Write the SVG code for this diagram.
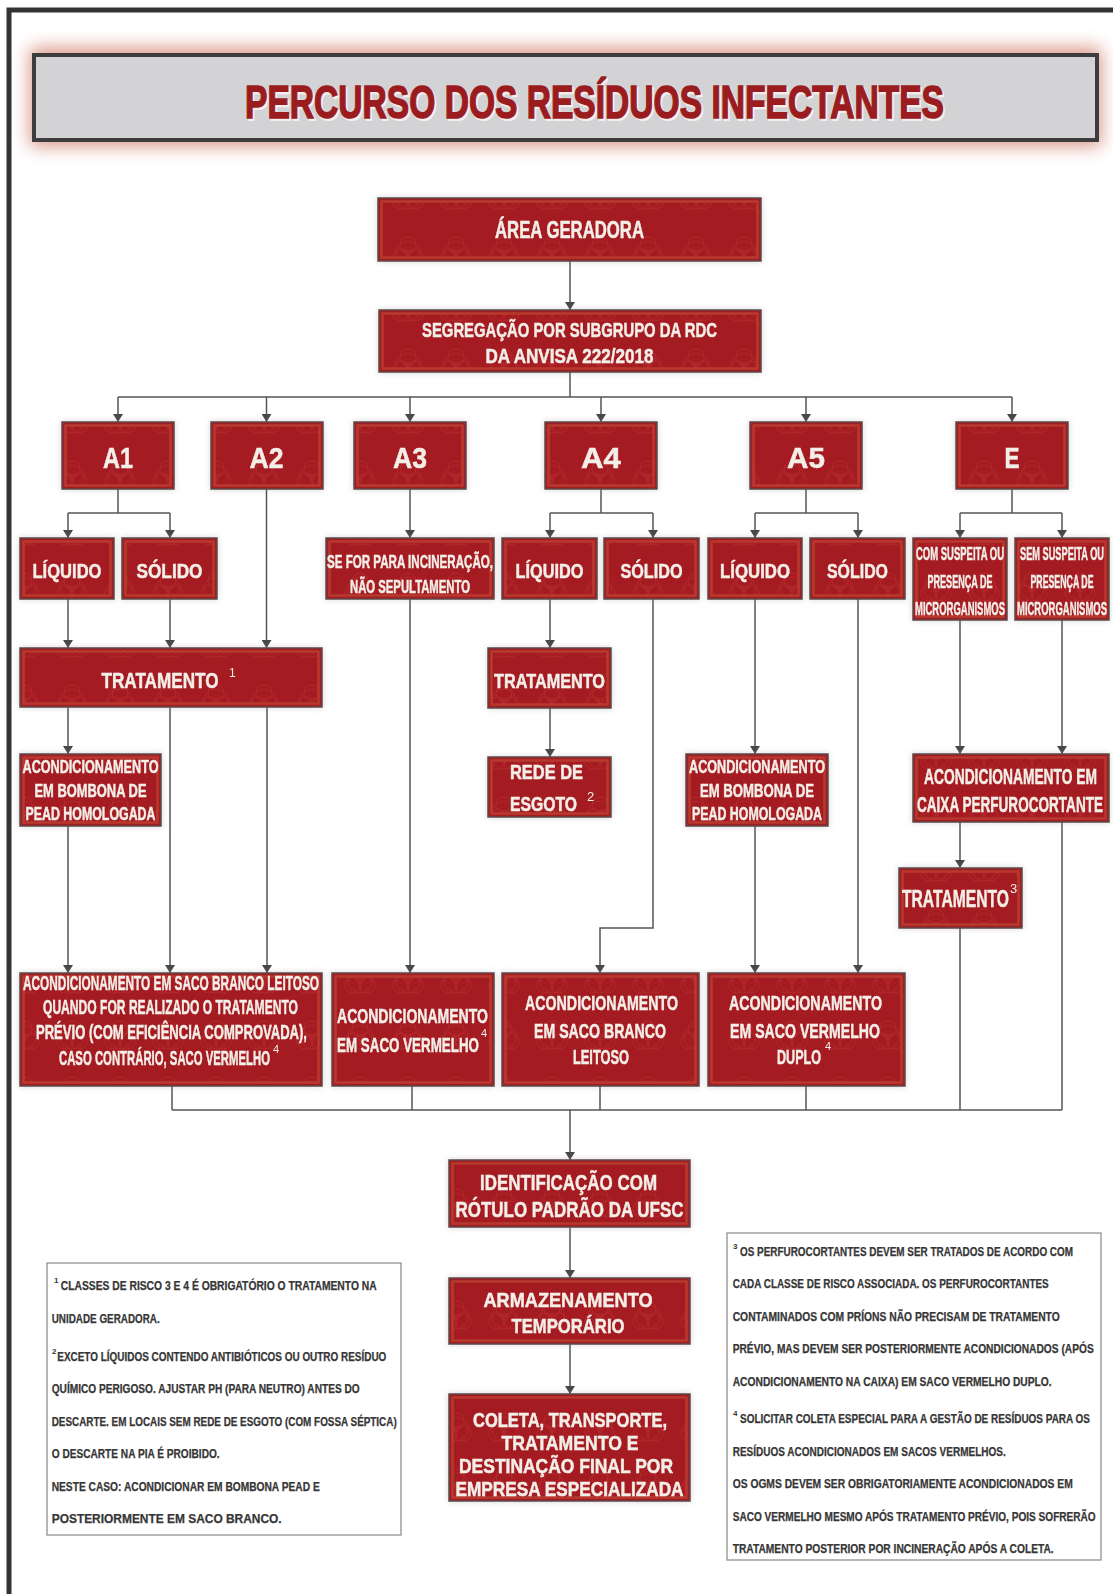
<svg xmlns="http://www.w3.org/2000/svg" width="1113" height="1594" viewBox="0 0 1113 1594">
<style>
.bx{fill:#a41a20;stroke:#5d4b4a;stroke-width:1.5}
.wm{fill:url(#bio)}
.bd{fill:none;stroke:#bd4434;stroke-width:2.5;opacity:.75}
.t{fill:#f4eee8;stroke:#f4eee8;stroke-width:.5;font-family:"Liberation Sans",Arial,sans-serif;font-weight:bold;text-anchor:middle}
.sup{fill:#f4eee8;font-family:"Liberation Sans",Arial,sans-serif;font-weight:normal}
.fn{fill:#363636;stroke:#363636;stroke-width:.25;font-family:"Liberation Sans",Arial,sans-serif;font-weight:bold;font-size:12px}
.fs{fill:#363636;font-family:"Liberation Sans",Arial,sans-serif;font-weight:bold;font-size:8px}
.c{fill:none;stroke:#555;stroke-width:1.5}
.ca{fill:none;stroke:#555;stroke-width:1.5;marker-end:url(#ah)}
.note{fill:#fff;stroke:#888;stroke-width:1.2}
.tt{font-family:"Liberation Sans",Arial,sans-serif;font-weight:bold;font-size:46px;text-anchor:middle}
</style>
<defs>
<marker id="ah" markerWidth="8" markerHeight="10" refX="8" refY="5" orient="auto" markerUnits="userSpaceOnUse"><path d="M0,0 L8,5 L0,10 Z" fill="#474747"/></marker>
<pattern id="bio" width="48" height="56" patternUnits="userSpaceOnUse">
<g fill="none" stroke="#c43a3a" stroke-width="1" opacity=".45">
<circle cx="24" cy="21" r="8"/><circle cx="17" cy="33" r="8"/><circle cx="31" cy="33" r="8"/><circle cx="24" cy="29" r="3"/><circle cx="24" cy="29" r="12"/>
</g>
</pattern>
<filter id="sh" x="-10%" y="-20%" width="120%" height="140%"><feDropShadow dx="0" dy="0" stdDeviation="3" flood-color="#8a8a8a" flood-opacity=".35"/></filter>
<filter id="glow" x="-10%" y="-60%" width="120%" height="220%"><feGaussianBlur stdDeviation="9"/></filter>
</defs>
<rect x="0" y="0" width="1113" height="1594" fill="#fff"/>
<path d="M9,1594 V10 H1113" fill="none" stroke="#333" stroke-width="5"/>

<g id="title">
<rect x="30" y="48" width="1071" height="98" fill="#cf7a66" opacity=".8" filter="url(#glow)"/>
<rect x="34" y="55" width="1063" height="85" fill="#d3d3d5" stroke="#3d3d3d" stroke-width="4"/>
<text class="tt" x="596" y="119.5" fill="#f6eeee" stroke="#f6eeee" stroke-width="2" textLength="699" lengthAdjust="spacingAndGlyphs">PERCURSO DOS RESÍDUOS INFECTANTES</text>
<text class="tt" x="594.5" y="118" fill="#9b1c1f" stroke="#9b1c1f" stroke-width="1.5" textLength="699" lengthAdjust="spacingAndGlyphs">PERCURSO DOS RESÍDUOS INFECTANTES</text>
</g>

<g id="connectors">
<path class="ca" d="M570,261 V310"/>
<path class="c" d="M570,372 V397 M118,397 H1012"/>
<path class="ca" d="M118,397 V422"/><path class="ca" d="M266.5,397 V422"/><path class="ca" d="M410,397 V422"/>
<path class="ca" d="M601,397 V422"/><path class="ca" d="M806,397 V422"/><path class="ca" d="M1012,397 V422"/>
<path class="c" d="M118,489 V513 M68,513 H170 M601,489 V513 M550,513 H653 M806,489 V513 M755,513 H858 M1012,489 V513 M960,513 H1062"/>
<path class="ca" d="M68,513 V538"/><path class="ca" d="M170,513 V538"/>
<path class="ca" d="M550,513 V538"/><path class="ca" d="M653,513 V538"/>
<path class="ca" d="M755,513 V538"/><path class="ca" d="M858,513 V538"/>
<path class="ca" d="M960,513 V538"/><path class="ca" d="M1062,513 V538"/>
<path class="ca" d="M266.5,489 V648"/>
<path class="ca" d="M410,489 V538"/>
<path class="ca" d="M68,599 V648"/><path class="ca" d="M170,599 V648"/>
<path class="ca" d="M68,707 V754"/>
<path class="ca" d="M170,707 V973"/><path class="ca" d="M267,707 V973"/>
<path class="ca" d="M68,826 V973"/>
<path class="ca" d="M410,599 V973"/>
<path class="ca" d="M550,599 V648"/><path class="ca" d="M550,708 V757"/>
<path class="ca" d="M653,599 V928 H600 V973"/>
<path class="ca" d="M755,599 V754"/><path class="ca" d="M755,826 V973"/>
<path class="ca" d="M858,599 V973"/>
<path class="ca" d="M960,620 V754"/><path class="ca" d="M1062,620 V754"/>
<path class="ca" d="M960,822 V868"/>
<path class="c" d="M1062,822 V1110 M960,928 V1110"/>
<path class="c" d="M172,1086 V1110 M412,1086 V1110 M600,1086 V1110 M806,1086 V1110 M172,1110 H1062"/>
<path class="ca" d="M570,1110 V1160"/>
<path class="ca" d="M570,1227 V1278"/>
<path class="ca" d="M570,1344 V1394"/>
</g>

<g id="n-area" filter="url(#sh)"><rect class="bx" x="378" y="198" width="383" height="63"/><rect class="wm" x="382" y="202" width="375" height="55"/><rect class="bd" x="381.5" y="201.5" width="376" height="56"/>
<text class="t" x="569.5" y="238" font-size="23" textLength="149" lengthAdjust="spacingAndGlyphs">ÁREA GERADORA</text></g>

<g id="n-segreg" filter="url(#sh)"><rect class="bx" x="379" y="310" width="382" height="62"/><rect class="wm" x="383" y="314" width="374" height="54"/><rect class="bd" x="382.5" y="313.5" width="375" height="55"/>
<text class="t" x="569.5" y="337" font-size="21" textLength="295" lengthAdjust="spacingAndGlyphs">SEGREGAÇÃO POR SUBGRUPO DA RDC</text>
<text class="t" x="569.5" y="363" font-size="21" textLength="168" lengthAdjust="spacingAndGlyphs">DA ANVISA 222/2018</text></g>

<g id="n-a1" filter="url(#sh)"><rect class="bx" x="62" y="422" width="112" height="67"/><rect class="wm" x="66" y="426" width="104" height="59"/><rect class="bd" x="65.5" y="425.5" width="105" height="60"/>
<text class="t" x="118" y="468" font-size="30" textLength="30" lengthAdjust="spacingAndGlyphs">A1</text></g>
<g id="n-a2" filter="url(#sh)"><rect class="bx" x="211" y="422" width="112" height="67"/><rect class="wm" x="215" y="426" width="104" height="59"/><rect class="bd" x="214.5" y="425.5" width="105" height="60"/>
<text class="t" x="266.5" y="468" font-size="30" textLength="34" lengthAdjust="spacingAndGlyphs">A2</text></g>
<g id="n-a3" filter="url(#sh)"><rect class="bx" x="354" y="422" width="112" height="67"/><rect class="wm" x="358" y="426" width="104" height="59"/><rect class="bd" x="357.5" y="425.5" width="105" height="60"/>
<text class="t" x="410" y="468" font-size="30" textLength="34" lengthAdjust="spacingAndGlyphs">A3</text></g>
<g id="n-a4" filter="url(#sh)"><rect class="bx" x="545" y="422" width="112" height="67"/><rect class="wm" x="549" y="426" width="104" height="59"/><rect class="bd" x="548.5" y="425.5" width="105" height="60"/>
<text class="t" x="601" y="468" font-size="30" textLength="40" lengthAdjust="spacingAndGlyphs">A4</text></g>
<g id="n-a5" filter="url(#sh)"><rect class="bx" x="750" y="422" width="112" height="67"/><rect class="wm" x="754" y="426" width="104" height="59"/><rect class="bd" x="753.5" y="425.5" width="105" height="60"/>
<text class="t" x="806" y="468" font-size="30" textLength="38" lengthAdjust="spacingAndGlyphs">A5</text></g>
<g id="n-e" filter="url(#sh)"><rect class="bx" x="956" y="422" width="112" height="67"/><rect class="wm" x="960" y="426" width="104" height="59"/><rect class="bd" x="959.5" y="425.5" width="105" height="60"/>
<text class="t" x="1012" y="468" font-size="30" textLength="15" lengthAdjust="spacingAndGlyphs">E</text></g>

<g id="n-a1-liq" filter="url(#sh)"><rect class="bx" x="20" y="538" width="94" height="61"/><rect class="wm" x="24" y="542" width="86" height="53"/><rect class="bd" x="23.5" y="541.5" width="87" height="54"/>
<text class="t" x="67" y="578" font-size="21" textLength="69" lengthAdjust="spacingAndGlyphs">LÍQUIDO</text></g>
<g id="n-a1-sol" filter="url(#sh)"><rect class="bx" x="122" y="538" width="95" height="61"/><rect class="wm" x="126" y="542" width="87" height="53"/><rect class="bd" x="125.5" y="541.5" width="88" height="54"/>
<text class="t" x="169.5" y="578" font-size="21" textLength="66" lengthAdjust="spacingAndGlyphs">SÓLIDO</text></g>
<g id="n-a3-inc" filter="url(#sh)"><rect class="bx" x="326" y="538" width="168" height="61"/><rect class="wm" x="330" y="542" width="160" height="53"/><rect class="bd" x="329.5" y="541.5" width="161" height="54"/>
<text class="t" x="410" y="568" font-size="18" textLength="166" lengthAdjust="spacingAndGlyphs">SE FOR PARA INCINERAÇÃO,</text>
<text class="t" x="410" y="593" font-size="18" textLength="120" lengthAdjust="spacingAndGlyphs">NÃO SEPULTAMENTO</text></g>
<g id="n-a4-liq" filter="url(#sh)"><rect class="bx" x="502" y="538" width="95" height="61"/><rect class="wm" x="506" y="542" width="87" height="53"/><rect class="bd" x="505.5" y="541.5" width="88" height="54"/>
<text class="t" x="549.5" y="578" font-size="21" textLength="68" lengthAdjust="spacingAndGlyphs">LÍQUIDO</text></g>
<g id="n-a4-sol" filter="url(#sh)"><rect class="bx" x="604" y="538" width="95" height="61"/><rect class="wm" x="608" y="542" width="87" height="53"/><rect class="bd" x="607.5" y="541.5" width="88" height="54"/>
<text class="t" x="651.5" y="578" font-size="21" textLength="62" lengthAdjust="spacingAndGlyphs">SÓLIDO</text></g>
<g id="n-a5-liq" filter="url(#sh)"><rect class="bx" x="708" y="538" width="94" height="61"/><rect class="wm" x="712" y="542" width="86" height="53"/><rect class="bd" x="711.5" y="541.5" width="87" height="54"/>
<text class="t" x="755" y="578" font-size="21" textLength="70" lengthAdjust="spacingAndGlyphs">LÍQUIDO</text></g>
<g id="n-a5-sol" filter="url(#sh)"><rect class="bx" x="810" y="538" width="95" height="61"/><rect class="wm" x="814" y="542" width="87" height="53"/><rect class="bd" x="813.5" y="541.5" width="88" height="54"/>
<text class="t" x="857.5" y="578" font-size="21" textLength="61" lengthAdjust="spacingAndGlyphs">SÓLIDO</text></g>
<g id="n-e-com" filter="url(#sh)"><rect class="bx" x="913" y="538" width="94" height="82"/><rect class="wm" x="917" y="542" width="86" height="74"/><rect class="bd" x="916.5" y="541.5" width="87" height="75"/>
<text class="t" x="960" y="560" font-size="18" textLength="88" lengthAdjust="spacingAndGlyphs">COM SUSPEITA OU</text>
<text class="t" x="960" y="588" font-size="18" textLength="65" lengthAdjust="spacingAndGlyphs">PRESENÇA DE</text>
<text class="t" x="960" y="615" font-size="18" textLength="90" lengthAdjust="spacingAndGlyphs">MICRORGANISMOS</text></g>
<g id="n-e-sem" filter="url(#sh)"><rect class="bx" x="1015" y="538" width="94" height="82"/><rect class="wm" x="1019" y="542" width="86" height="74"/><rect class="bd" x="1018.5" y="541.5" width="87" height="75"/>
<text class="t" x="1062" y="560" font-size="18" textLength="84" lengthAdjust="spacingAndGlyphs">SEM SUSPEITA OU</text>
<text class="t" x="1062" y="588" font-size="18" textLength="63" lengthAdjust="spacingAndGlyphs">PRESENÇA DE</text>
<text class="t" x="1062" y="615" font-size="18" textLength="90" lengthAdjust="spacingAndGlyphs">MICRORGANISMOS</text></g>

<g id="n-trat1" filter="url(#sh)"><rect class="bx" x="20" y="648" width="302" height="59"/><rect class="wm" x="24" y="652" width="294" height="51"/><rect class="bd" x="23.5" y="651.5" width="295" height="52"/>
<text class="t" x="160" y="688" font-size="22" textLength="117" lengthAdjust="spacingAndGlyphs">TRATAMENTO</text>
<text class="sup" x="229" y="677" font-size="12">1</text></g>
<g id="n-a1-bomb" filter="url(#sh)"><rect class="bx" x="20" y="754" width="141" height="72"/><rect class="wm" x="24" y="758" width="133" height="64"/><rect class="bd" x="23.5" y="757.5" width="134" height="65"/>
<text class="t" x="90.5" y="773" font-size="18" textLength="136" lengthAdjust="spacingAndGlyphs">ACONDICIONAMENTO</text>
<text class="t" x="90.5" y="797" font-size="18" textLength="112" lengthAdjust="spacingAndGlyphs">EM BOMBONA DE</text>
<text class="t" x="90.5" y="820" font-size="18" textLength="130" lengthAdjust="spacingAndGlyphs">PEAD HOMOLOGADA</text></g>
<g id="n-a4-trat" filter="url(#sh)"><rect class="bx" x="488" y="648" width="123" height="60"/><rect class="wm" x="492" y="652" width="115" height="52"/><rect class="bd" x="491.5" y="651.5" width="116" height="53"/>
<text class="t" x="549.5" y="688" font-size="21" textLength="111" lengthAdjust="spacingAndGlyphs">TRATAMENTO</text></g>
<g id="n-a4-rede" filter="url(#sh)"><rect class="bx" x="488" y="757" width="123" height="60"/><rect class="wm" x="492" y="761" width="115" height="52"/><rect class="bd" x="491.5" y="760.5" width="116" height="53"/>
<text class="t" x="546.5" y="779" font-size="21" textLength="73" lengthAdjust="spacingAndGlyphs">REDE DE</text>
<text class="t" x="543.5" y="811" font-size="21" textLength="67" lengthAdjust="spacingAndGlyphs">ESGOTO</text>
<text class="sup" x="587" y="801" font-size="13">2</text></g>
<g id="n-a5-bomb" filter="url(#sh)"><rect class="bx" x="686" y="754" width="142" height="72"/><rect class="wm" x="690" y="758" width="134" height="64"/><rect class="bd" x="689.5" y="757.5" width="135" height="65"/>
<text class="t" x="757" y="773" font-size="18" textLength="136" lengthAdjust="spacingAndGlyphs">ACONDICIONAMENTO</text>
<text class="t" x="757" y="797" font-size="18" textLength="114" lengthAdjust="spacingAndGlyphs">EM BOMBONA DE</text>
<text class="t" x="757" y="820" font-size="18" textLength="130" lengthAdjust="spacingAndGlyphs">PEAD HOMOLOGADA</text></g>
<g id="n-e-caixa" filter="url(#sh)"><rect class="bx" x="913" y="754" width="196" height="68"/><rect class="wm" x="917" y="758" width="188" height="60"/><rect class="bd" x="916.5" y="757.5" width="189" height="61"/>
<text class="t" x="1010.5" y="784" font-size="22" textLength="173" lengthAdjust="spacingAndGlyphs">ACONDICIONAMENTO EM</text>
<text class="t" x="1010" y="812" font-size="22" textLength="186" lengthAdjust="spacingAndGlyphs">CAIXA PERFUROCORTANTE</text></g>
<g id="n-e-trat" filter="url(#sh)"><rect class="bx" x="899" y="868" width="123" height="60"/><rect class="wm" x="903" y="872" width="115" height="52"/><rect class="bd" x="902.5" y="871.5" width="116" height="53"/>
<text class="t" x="955.5" y="907" font-size="24" textLength="107" lengthAdjust="spacingAndGlyphs">TRATAMENTO</text>
<text class="sup" x="1010" y="893" font-size="13">3</text></g>

<g id="n-b1" filter="url(#sh)"><rect class="bx" x="20" y="973" width="302" height="113"/><rect class="wm" x="24" y="977" width="294" height="105"/><rect class="bd" x="23.5" y="976.5" width="295" height="106"/>
<text class="t" x="171" y="990" font-size="20" textLength="296" lengthAdjust="spacingAndGlyphs">ACONDICIONAMENTO EM SACO BRANCO LEITOSO</text>
<text class="t" x="170.5" y="1014" font-size="20" textLength="255" lengthAdjust="spacingAndGlyphs">QUANDO FOR REALIZADO O TRATAMENTO</text>
<text class="t" x="171.5" y="1039" font-size="20" textLength="271" lengthAdjust="spacingAndGlyphs">PRÉVIO (COM EFICIÊNCIA COMPROVADA),</text>
<text class="t" x="164.5" y="1065" font-size="20" textLength="211" lengthAdjust="spacingAndGlyphs">CASO CONTRÁRIO, SACO VERMELHO</text>
<text class="sup" x="273" y="1053" font-size="11">4</text></g>
<g id="n-b2" filter="url(#sh)"><rect class="bx" x="332" y="973" width="162" height="113"/><rect class="wm" x="336" y="977" width="154" height="105"/><rect class="bd" x="335.5" y="976.5" width="155" height="106"/>
<text class="t" x="412.5" y="1023" font-size="21" textLength="151" lengthAdjust="spacingAndGlyphs">ACONDICIONAMENTO</text>
<text class="t" x="408" y="1052" font-size="21" textLength="142" lengthAdjust="spacingAndGlyphs">EM SACO VERMELHO</text>
<text class="sup" x="481" y="1037" font-size="11">4</text></g>
<g id="n-b3" filter="url(#sh)"><rect class="bx" x="502" y="973" width="197" height="113"/><rect class="wm" x="506" y="977" width="189" height="105"/><rect class="bd" x="505.5" y="976.5" width="190" height="106"/>
<text class="t" x="601.5" y="1010" font-size="21" textLength="153" lengthAdjust="spacingAndGlyphs">ACONDICIONAMENTO</text>
<text class="t" x="600" y="1038" font-size="21" textLength="132" lengthAdjust="spacingAndGlyphs">EM SACO BRANCO</text>
<text class="t" x="601" y="1064" font-size="21" textLength="56" lengthAdjust="spacingAndGlyphs">LEITOSO</text></g>
<g id="n-b4" filter="url(#sh)"><rect class="bx" x="708" y="973" width="197" height="113"/><rect class="wm" x="712" y="977" width="189" height="105"/><rect class="bd" x="711.5" y="976.5" width="190" height="106"/>
<text class="t" x="805.5" y="1010" font-size="21" textLength="153" lengthAdjust="spacingAndGlyphs">ACONDICIONAMENTO</text>
<text class="t" x="805" y="1038" font-size="21" textLength="150" lengthAdjust="spacingAndGlyphs">EM SACO VERMELHO</text>
<text class="t" x="799" y="1064" font-size="21" textLength="44" lengthAdjust="spacingAndGlyphs">DUPLO</text>
<text class="sup" x="825" y="1050" font-size="11">4</text></g>

<g id="n-ident" filter="url(#sh)"><rect class="bx" x="449" y="1160" width="241" height="67"/><rect class="wm" x="453" y="1164" width="233" height="59"/><rect class="bd" x="452.5" y="1163.5" width="234" height="60"/>
<text class="t" x="568.5" y="1190" font-size="22" textLength="177" lengthAdjust="spacingAndGlyphs">IDENTIFICAÇÃO COM</text>
<text class="t" x="569.5" y="1217" font-size="22" textLength="228" lengthAdjust="spacingAndGlyphs">RÓTULO PADRÃO DA UFSC</text></g>
<g id="n-armaz" filter="url(#sh)"><rect class="bx" x="449" y="1278" width="241" height="66"/><rect class="wm" x="453" y="1282" width="233" height="58"/><rect class="bd" x="452.5" y="1281.5" width="234" height="59"/>
<text class="t" x="568" y="1307" font-size="21" textLength="169" lengthAdjust="spacingAndGlyphs">ARMAZENAMENTO</text>
<text class="t" x="568" y="1333" font-size="21" textLength="113" lengthAdjust="spacingAndGlyphs">TEMPORÁRIO</text></g>
<g id="n-coleta" filter="url(#sh)"><rect class="bx" x="449" y="1394" width="241" height="107"/><rect class="wm" x="453" y="1398" width="233" height="99"/><rect class="bd" x="452.5" y="1397.5" width="234" height="100"/>
<text class="t" x="570" y="1427" font-size="20" textLength="194" lengthAdjust="spacingAndGlyphs">COLETA, TRANSPORTE,</text>
<text class="t" x="570" y="1450" font-size="20" textLength="137" lengthAdjust="spacingAndGlyphs">TRATAMENTO E</text>
<text class="t" x="566" y="1473" font-size="20" textLength="214" lengthAdjust="spacingAndGlyphs">DESTINAÇÃO FINAL POR</text>
<text class="t" x="569.5" y="1496" font-size="20" textLength="228" lengthAdjust="spacingAndGlyphs">EMPRESA ESPECIALIZADA</text></g>

<g id="note-left">
<rect class="note" x="47" y="1263" width="354" height="272"/>
<text class="fs" x="54" y="1283">1</text>
<text class="fn" x="60.7" y="1290" textLength="316" lengthAdjust="spacingAndGlyphs">CLASSES DE RISCO 3 E 4 É OBRIGATÓRIO O TRATAMENTO NA</text>
<text class="fn" x="51.7" y="1323" textLength="108" lengthAdjust="spacingAndGlyphs">UNIDADE GERADORA.</text>
<text class="fs" x="52" y="1354">2</text>
<text class="fn" x="57.3" y="1361" textLength="329" lengthAdjust="spacingAndGlyphs">EXCETO LÍQUIDOS CONTENDO ANTIBIÓTICOS OU OUTRO RESÍDUO</text>
<text class="fn" x="51.7" y="1393" textLength="308" lengthAdjust="spacingAndGlyphs">QUÍMICO PERIGOSO. AJUSTAR PH (PARA NEUTRO) ANTES DO</text>
<text class="fn" x="51.7" y="1426" textLength="345" lengthAdjust="spacingAndGlyphs">DESCARTE. EM LOCAIS SEM REDE DE ESGOTO (COM FOSSA SÉPTICA)</text>
<text class="fn" x="51.7" y="1458" textLength="168" lengthAdjust="spacingAndGlyphs">O DESCARTE NA PIA É PROIBIDO.</text>
<text class="fn" x="51.7" y="1491" textLength="268" lengthAdjust="spacingAndGlyphs">NESTE CASO: ACONDICIONAR EM BOMBONA PEAD E</text>
<text class="fn" x="51.7" y="1523" textLength="230" lengthAdjust="spacingAndGlyphs">POSTERIORMENTE EM SACO BRANCO.</text>
</g>
<g id="note-right">
<rect class="note" x="727" y="1233" width="374" height="327"/>
<text class="fs" x="733" y="1249">3</text>
<text class="fn" x="740" y="1256" textLength="333" lengthAdjust="spacingAndGlyphs">OS PERFUROCORTANTES DEVEM SER TRATADOS DE ACORDO COM</text>
<text class="fn" x="732.7" y="1288" textLength="316" lengthAdjust="spacingAndGlyphs">CADA CLASSE DE RISCO ASSOCIADA. OS PERFUROCORTANTES</text>
<text class="fn" x="732.7" y="1321" textLength="327" lengthAdjust="spacingAndGlyphs">CONTAMINADOS COM PRÍONS NÃO PRECISAM DE TRATAMENTO</text>
<text class="fn" x="732.7" y="1353" textLength="361" lengthAdjust="spacingAndGlyphs">PRÉVIO, MAS DEVEM SER POSTERIORMENTE ACONDICIONADOS (APÓS</text>
<text class="fn" x="732.7" y="1386" textLength="319" lengthAdjust="spacingAndGlyphs">ACONDICIONAMENTO NA CAIXA) EM SACO VERMELHO DUPLO.</text>
<text class="fs" x="733" y="1416">4</text>
<text class="fn" x="740" y="1423" textLength="350" lengthAdjust="spacingAndGlyphs">SOLICITAR COLETA ESPECIAL PARA A GESTÃO DE RESÍDUOS PARA OS</text>
<text class="fn" x="732.7" y="1456" textLength="273" lengthAdjust="spacingAndGlyphs">RESÍDUOS ACONDICIONADOS EM SACOS VERMELHOS.</text>
<text class="fn" x="732.7" y="1488" textLength="340" lengthAdjust="spacingAndGlyphs">OS OGMS DEVEM SER OBRIGATORIAMENTE ACONDICIONADOS EM</text>
<text class="fn" x="732.7" y="1521" textLength="363" lengthAdjust="spacingAndGlyphs">SACO VERMELHO MESMO APÓS TRATAMENTO PRÉVIO, POIS SOFRERÃO</text>
<text class="fn" x="732.7" y="1553" textLength="321" lengthAdjust="spacingAndGlyphs">TRATAMENTO POSTERIOR POR INCINERAÇÃO APÓS A COLETA.</text>
</g>
</svg>
